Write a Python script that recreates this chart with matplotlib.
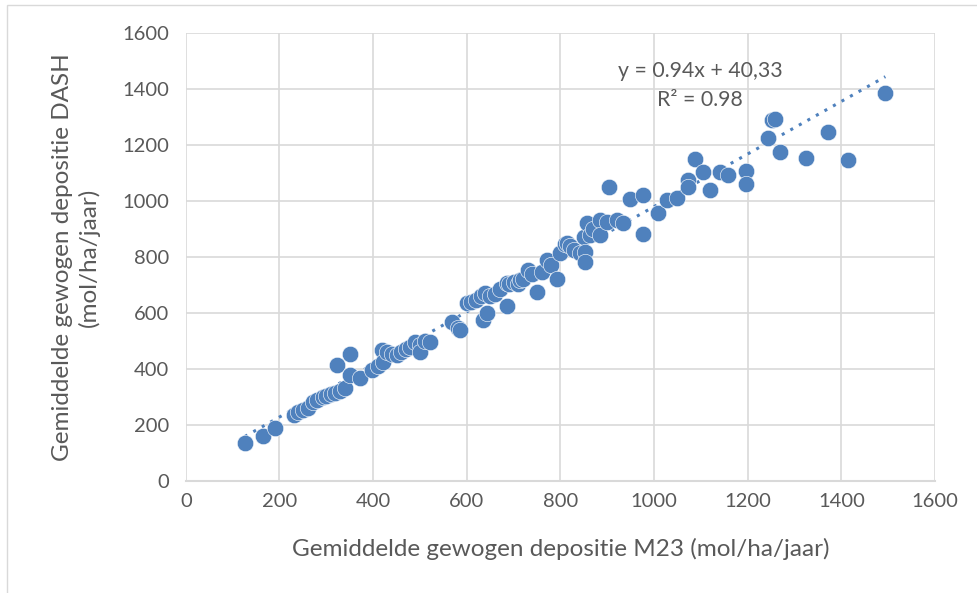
import matplotlib.pyplot as plt
import numpy as np
from matplotlib.patches import Rectangle

# data (mol/ha/jaar)
m23 = [126, 165, 190, 231, 240, 250, 260, 271, 280, 293, 300, 310, 318, 323, 330, 340,
       350, 350, 372, 397, 410, 419, 421, 430, 440, 451, 460, 470, 479, 490, 500, 500, 510, 521,
       568, 581, 585, 600, 610, 620, 630, 635, 643, 640, 650, 660, 670, 686, 686, 690, 700, 710,
       714, 720, 731, 740, 750, 760, 771, 780, 793, 800, 810, 814, 820, 830, 842, 850, 853, 853,
       857, 863, 870, 885, 885, 900, 904, 921, 934, 949, 976, 976, 1009, 1028, 1049,
       1073, 1073, 1088, 1105, 1120, 1141, 1158, 1197, 1197, 1244, 1252, 1258, 1269,
       1325, 1372, 1415, 1494]
dash = [136, 161, 189, 236, 245, 254, 262, 282, 288, 300, 305, 312, 314, 414, 322, 332,
        379, 454, 368, 396, 412, 468, 425, 462, 455, 450, 460, 472, 479, 495, 486, 461, 500, 496,
        568, 546, 539, 636, 640, 648, 660, 575, 600, 671, 660, 668, 685, 707, 625, 705, 712, 702,
        718, 722, 754, 738, 675, 748, 789, 772, 721, 815, 845, 850, 838, 825, 814, 870, 818, 782,
        921, 879, 900, 932, 879, 925, 1050, 932, 921, 1007, 1021, 882, 957, 1003, 1011,
        1075, 1050, 1150, 1104, 1039, 1104, 1093, 1107, 1061, 1225, 1289, 1295, 1175,
        1153, 1246, 1146, 1386]

slope, intercept = 0.94, 40.33
xticks = list(range(0, 1601, 200))
yticks = list(range(0, 1601, 200))

blue = "#4F81BD"
grey_txt = "#595959"
grid_c = "#D9D9D9"
plt.rcParams['font.family'] = ['Lato', 'DejaVu Sans']

fig = plt.figure(figsize=(9.78, 5.93), dpi=100)
ax = fig.add_axes([0.190, 0.189, 0.766, 0.755])

ax.scatter(m23, dash, s=140, color=blue, edgecolors="white", linewidths=0.4, zorder=3)

xl = np.array([min(m23), max(m23)])
ax.plot(xl, slope * xl + intercept, linestyle=(0, (1, 2.2)), color=blue, linewidth=2.2, zorder=2)

ax.set_xlim(0, 1600)
ax.set_ylim(0, 1600)
ax.set_xticks(xticks)
ax.set_yticks(yticks)
ax.grid(True, color=grid_c, linewidth=1.2)
ax.set_axisbelow(True)
for s in ["top", "right", "left"]:
    ax.spines[s].set_visible(False)
ax.spines["bottom"].set_color(grid_c)
ax.spines["bottom"].set_linewidth(1.5)
ax.tick_params(length=0, labelsize=14.5, labelcolor=grey_txt)
ax.tick_params(axis="y", pad=12)
ax.tick_params(axis="x", pad=9)

ax.set_xlabel("Gemiddelde gewogen depositie M23 (mol/ha/jaar)", fontsize=17.5, color=grey_txt, labelpad=20)
ax.set_ylabel("Gemiddelde gewogen depositie DASH\n(mol/ha/jaar)", fontsize=17.5, color=grey_txt,
              labelpad=16, linespacing=1.25)

ax.text(1098, 1464, "y = 0.94x + 40,33", fontsize=15.3, color=grey_txt, ha="center", va="center")
ax.text(1098, 1361, "R² = 0.98", fontsize=15.3, color=grey_txt, ha="center", va="center")

fig.patches.append(Rectangle((7 / 978, -0.05), 1.1, 1 - 5 / 593 + 0.05, transform=fig.transFigure,
                             fill=False, edgecolor=grid_c, linewidth=1))

fig.savefig("out.png", dpi=100)
